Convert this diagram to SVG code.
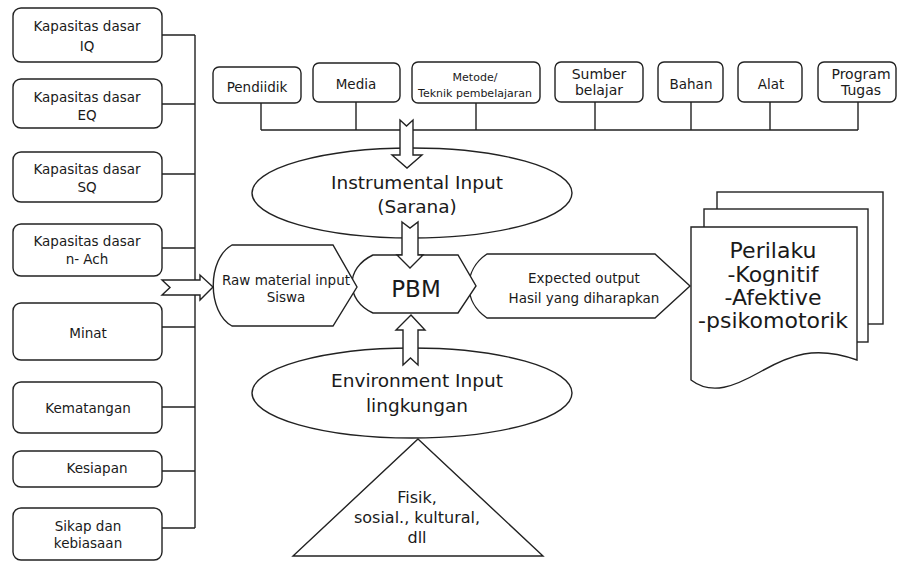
<svg xmlns="http://www.w3.org/2000/svg" width="899" height="562" viewBox="0 0 899 562">
<style>
.b{fill:#fff;stroke:#222;stroke-width:1.4}
.l{fill:none;stroke:#222;stroke-width:1.4}
text{font-family:"DejaVu Sans","Liberation Sans",sans-serif;fill:#1a1a1a;text-anchor:middle}
.s12{font-size:13.5px}
.s13{font-size:13.5px}
.s11{font-size:11px}
.s14{font-size:14px}
.e{font-size:18.5px}
</style>
<rect width="899" height="562" fill="#fff"/>
<g id="connectors">
<path class="l" d="M162,35H195M162,104H195M162,174H195M162,248H195M162,327H195M162,407H195M162,471H195M162,528H195M195,35V528"/>
<path class="l" d="M261,103V130M356,102V130M476,103V130M595,102V130M691,102V130M770,102V130M858,102V130M261,130H858"/>
</g>
<g id="node-iq"><rect class="b" x="13" y="8" width="149" height="54" rx="8"/><text class="s12" x="87" y="31">Kapasitas dasar</text><text class="s12" x="87" y="51">IQ</text></g>
<g id="node-eq"><rect class="b" x="13" y="79" width="149" height="49" rx="8"/><text class="s12" x="87" y="102">Kapasitas dasar</text><text class="s12" x="87" y="120">EQ</text></g>
<g id="node-sq"><rect class="b" x="13" y="152" width="149" height="50" rx="8"/><text class="s12" x="87" y="174">Kapasitas dasar</text><text class="s12" x="87" y="192">SQ</text></g>
<g id="node-nach"><rect class="b" x="13" y="224" width="149" height="52" rx="8"/><text class="s12" x="87" y="246">Kapasitas dasar</text><text class="s12" x="87" y="264">n- Ach</text></g>
<g id="node-minat"><rect class="b" x="13" y="303" width="149" height="57" rx="8"/><text class="s12" x="88" y="338">Minat</text></g>
<g id="node-kematangan"><rect class="b" x="13" y="382" width="149" height="51" rx="8"/><text class="s12" x="88" y="413">Kematangan</text></g>
<g id="node-kesiapan"><rect class="b" x="13" y="451" width="149" height="36" rx="8"/><text class="s12" x="97" y="473">Kesiapan</text></g>
<g id="node-sikap"><rect class="b" x="13" y="508" width="149" height="52" rx="8"/><text class="s12" x="88" y="531">Sikap dan</text><text class="s12" x="88" y="548">kebiasaan</text></g>

<g id="node-pendiidik"><rect class="b" x="213" y="67" width="88" height="36" rx="6"/><text class="s13" x="257" y="92">Pendiidik</text></g>
<g id="node-media"><rect class="b" x="313" y="63" width="87" height="39" rx="6"/><text class="s13" x="356" y="89">Media</text></g>
<g id="node-metode"><rect class="b" x="412" y="62" width="128" height="41" rx="6"/><text class="s11" x="475" y="81">Metode/</text><text class="s11" x="475" y="97">Teknik pembelajaran</text></g>
<g id="node-sumber"><rect class="b" x="555" y="62" width="88" height="40" rx="6"/><text class="s14" x="599" y="79">Sumber</text><text class="s14" x="599" y="95">belajar</text></g>
<g id="node-bahan"><rect class="b" x="658" y="62" width="65" height="40" rx="6"/><text class="s13" x="691" y="89">Bahan</text></g>
<g id="node-alat"><rect class="b" x="738" y="62" width="64" height="40" rx="6"/><text class="s13" x="771" y="89">Alat</text></g>
<g id="node-program"><rect class="b" x="818" y="62" width="78" height="40" rx="6"/><text class="s14" x="861" y="79">Program</text><text class="s14" x="861" y="95">Tugas</text></g>

<g id="node-instrumental"><ellipse class="b" cx="412" cy="193" rx="160" ry="45"/><text class="e" x="417" y="189">Instrumental Input</text><text class="e" x="417" y="213">(Sarana)</text></g>
<g id="node-environment"><ellipse class="b" cx="412" cy="393" rx="160" ry="45"/><text class="e" x="417" y="387">Environment Input</text><text class="e" x="417" y="412">lingkungan</text></g>
<g id="node-fisik"><polygon class="b" points="418,439 543,556 293,556"/><text x="417" y="503" style="font-size:16px">Fisik,</text><text x="417" y="523" style="font-size:16px">sosial., kultural,</text><text x="417" y="543" style="font-size:16px">dll</text></g>

<g id="node-expected"><path class="b" d="M487,254H655L690,286L655,318H487C463,302 463,270 487,254Z"/><text class="s13" x="584" y="283">Expected output</text><text class="s13" x="584" y="303">Hasil yang diharapkan</text></g>
<g id="node-pbm"><path class="b" d="M373,255H458L476,286L458,313H373C345,300 345,268 373,255Z"/><text x="416" y="297" style="font-size:23px">PBM</text></g>
<g id="node-raw"><path class="b" d="M232,245H333L357,287L333,326H232C207,312 207,259 232,245Z"/><text class="s13" x="286" y="285">Raw material input</text><text class="s13" x="286" y="302">Siswa</text></g>

<g id="node-perilaku">
<rect class="b" x="717" y="192" width="166" height="132"/>
<rect class="b" x="704" y="209" width="164" height="133"/>
<path class="b" d="M691,227H857V360C815,345 790,355 760,372C735,386 712,396 691,380Z"/>
<text x="773" y="258" style="font-size:22px">Perilaku</text>
<text x="773" y="282" style="font-size:22px">-Kognitif</text>
<text x="773" y="305" style="font-size:22px">-Afektive</text>
<text x="773" y="328" style="font-size:22px">-psikomotorik</text>
</g>

<g id="arrows">
<path class="b" d="M162,280H200V275L213,287L200,300V295H162L170,287.5Z"/>
<path class="b" d="M400,120L406.5,126L413,120V155H422L407,168L392,155H400Z"/>
<path class="b" d="M402,222L410,228L418,222V255H423L410,268L397,255H402Z"/>
<path class="b" d="M403,365L410.5,358L418,365V330H425L411,315L396,330H403Z"/>
</g>
</svg>
